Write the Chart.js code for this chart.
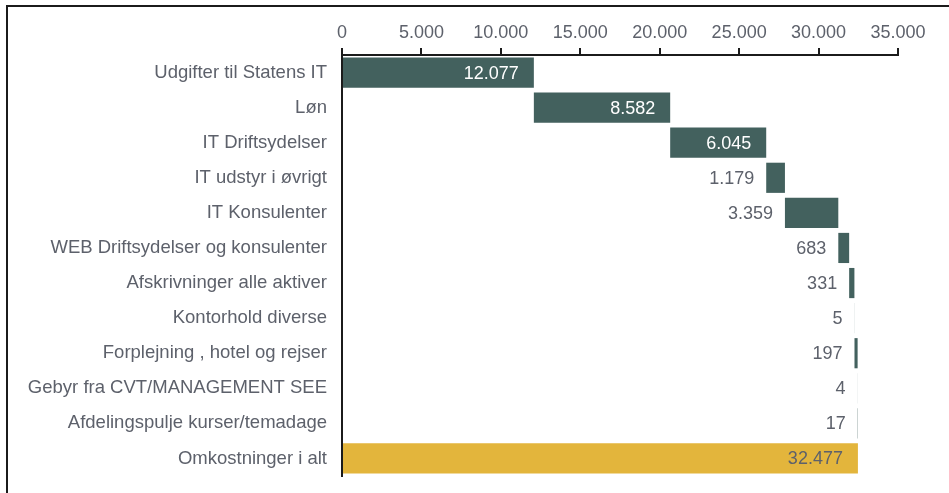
<!DOCTYPE html>
<html>
<head>
<meta charset="utf-8">
<script src="https://cdn.jsdelivr.net/npm/chart.js@4.4.1/dist/chart.umd.min.js"></script>
<style>
  html, body { margin: 0; padding: 0; background: #fff; }
  #wrap { position: relative; width: 949px; height: 493px; }
  #frame {
    position: absolute; left: 6px; top: 5px; right: 0; bottom: 0;
    border-top: 2px solid #1b1b1b; border-left: 2px solid #1b1b1b;
    pointer-events: none;
  }
</style>
</head>
<body>
<div id="wrap">
  <canvas id="chart" width="949" height="493"></canvas>
  <div id="frame"></div>
</div>
<script>
// waterfall data
const categories = [
  'Udgifter til Statens IT', 'Løn', 'IT Driftsydelser', 'IT udstyr i øvrigt',
  'IT Konsulenter', 'WEB Driftsydelser og konsulenter', 'Afskrivninger alle aktiver',
  'Kontorhold diverse', 'Forplejning , hotel og rejser', 'Gebyr fra CVT/MANAGEMENT SEE',
  'Afdelingspulje kurser/temadage', 'Omkostninger i alt'
];
const steps = [12077, 8582, 6045, 1179, 3359, 683, 331, 5, 197, 4, 17];
const total = 32477;
const xTicks = [0, 5000, 10000, 15000, 20000, 25000, 30000, 35000];

const textGray = '#5d616b';
const stepColor = '#43615e';
const totalColor = '#e3b53c';
const fontFamily = '"Liberation Sans", Arial, sans-serif';

// floating bars: [start, end] for every step, then the total from 0
let running = 0;
const ranges = steps.map(function(v) {
  const r = [running, running + v];
  running += v;
  return r;
});
ranges.push([0, total]);
const shown = steps.concat([total]);
const colors = shown.map(function(v, i) { return i === shown.length - 1 ? totalColor : stepColor; });

function fmt(n) {
  return String(n).replace(/\B(?=(\d{3})+(?!\d))/g, '.');
}

// value labels: inside the bar end when it fits, else left of the bar start
const valueLabels = {
  id: 'valueLabels',
  afterDatasetsDraw(chart) {
    const ctx = chart.ctx;
    const meta = chart.getDatasetMeta(0);
    ctx.save();
    ctx.font = '18px ' + fontFamily;
    ctx.textAlign = 'right';
    ctx.textBaseline = 'middle';
    meta.data.forEach(function(el, i) {
      const left = Math.min(el.x, el.base);
      const right = Math.max(el.x, el.base);
      const isTotal = i === shown.length - 1;
      if (right - left > 70) {
        ctx.fillStyle = isTotal ? textGray : '#ffffff';
        ctx.fillText(fmt(shown[i]), right - 15, el.y + 1);
      } else {
        ctx.fillStyle = textGray;
        ctx.fillText(fmt(shown[i]), left - 12, el.y + 1);
      }
    });
    ctx.restore();
  }
};

new Chart(document.getElementById('chart'), {
  type: 'bar',
  data: {
    labels: categories,
    datasets: [{
      data: ranges,
      backgroundColor: colors,
      borderWidth: 0,
      barPercentage: 0.86,
      categoryPercentage: 1
    }]
  },
  options: {
    indexAxis: 'y',
    responsive: false,
    animation: false,
    layout: { padding: { left: 0, right: 51, top: 0, bottom: 17 } },
    plugins: { legend: { display: false }, tooltip: { enabled: false } },
    scales: {
      x: {
        position: 'top',
        min: 0,
        max: 35000,
        afterBuildTicks: function(scale) { scale.ticks = xTicks.map(function(v) { return { value: v }; }); },
        afterFit: function(scale) {
          scale.height = 55;
          scale.paddingLeft = 0;
          scale.paddingRight = 0;
        },
        grid: { drawOnChartArea: false, drawTicks: true, tickLength: 7, color: '#1b1b1b', lineWidth: 2 },
        border: { display: true, color: '#1b1b1b', width: 2 },
        ticks: {
          padding: 4,
          color: textGray,
          font: { family: fontFamily, size: 18 },
          callback: function(v) { return fmt(v); }
        }
      },
      y: {
        afterFit: function(scale) {
          scale.width = 342;
          scale.paddingTop = 0;
          scale.paddingBottom = 0;
        },
        grid: { display: false, drawTicks: false },
        border: { display: true, color: '#1b1b1b', width: 2 },
        ticks: {
          padding: 15,
          color: textGray,
          font: { family: fontFamily, size: 18.5 }
        }
      }
    }
  },
  plugins: [valueLabels]
});
</script>
</body>
</html>
